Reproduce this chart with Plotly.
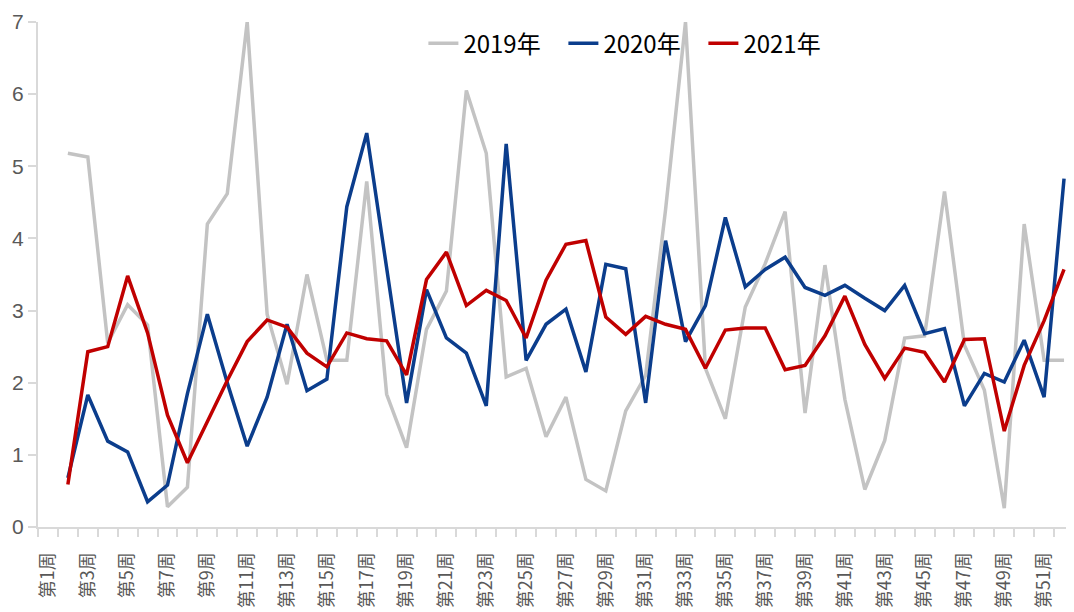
import plotly.graph_objects as go

weeks = list(range(1, 53))
week_labels = [f"第{i}周" for i in weeks]
tick_weeks = list(range(1, 53, 2))
tick_labels = [f"第{i}周" for i in tick_weeks]

y2019 = [None, 5.18, 5.13, 2.55, 3.08, 2.80, 0.28, 0.55, 4.20, 4.62, 7.00, 2.95, 1.98, 3.50,
         2.31, 2.31, 4.79, 1.84, 1.10, 2.74, 3.27, 6.05, 5.18, 2.08, 2.20, 1.25, 1.80, 0.66,
         0.50, 1.61, 2.10, 4.40, 7.00, 2.20, 1.50, 3.05, 3.65, 4.37, 1.58, 3.63, 1.77, 0.52,
         1.20, 2.62, 2.65, 4.65, 2.52, 1.90, 0.26, 4.20, 2.31, 2.31]
y2020 = [None, 0.68, 1.83, 1.19, 1.04, 0.35, 0.58, 1.85, 2.95, 2.00, 1.12, 1.80, 2.81, 1.89,
         2.05, 4.44, 5.46, 3.59, 1.72, 3.29, 2.62, 2.41, 1.68, 5.31, 2.31, 2.81, 3.02, 2.15,
         3.64, 3.58, 1.72, 3.97, 2.57, 3.07, 4.29, 3.33, 3.57, 3.74, 3.32, 3.21, 3.35, 3.17,
         3.00, 3.35, 2.68, 2.75, 1.68, 2.13, 2.01, 2.59, 1.80, 4.83]
y2021 = [None, 0.59, 2.43, 2.50, 3.48, 2.69, 1.55, 0.89, 1.47, 2.03, 2.57, 2.87, 2.77, 2.41,
         2.22, 2.69, 2.61, 2.58, 2.11, 3.43, 3.81, 3.07, 3.28, 3.14, 2.62, 3.42, 3.92, 3.97,
         2.91, 2.67, 2.92, 2.81, 2.74, 2.20, 2.73, 2.76, 2.76, 2.18, 2.24, 2.65, 3.20, 2.53,
         2.06, 2.48, 2.42, 2.01, 2.60, 2.61, 1.33, 2.24, 2.86, 3.57]

series = [
    ("2019年", y2019, "#c3c3c3"),
    ("2020年", y2020, "#0b3d8c"),
    ("2021年", y2021, "#c00000"),
]

fig = go.Figure()
for name, ys, color in series:
    fig.add_trace(go.Scatter(
        x=weeks, y=ys, name=name, mode="lines",
        line=dict(color=color, width=3.5),
        customdata=week_labels,
        hovertemplate="%{customdata}: %{y}<extra>" + name + "</extra>",
    ))

fig.update_layout(
    width=1066, height=604,
    margin=dict(l=30, r=0, t=14, b=85, pad=0, autoexpand=False),
    paper_bgcolor="white", plot_bgcolor="white",
    font=dict(family="Noto Sans CJK SC, Noto Sans, sans-serif", color="#595959"),
    showlegend=True,
    legend=dict(
        orientation="h", x=0.372, y=0.957, xanchor="left", yanchor="middle",
        font=dict(size=24, color="#000000"), bgcolor="rgba(0,0,0,0)",
        entrywidth=95, entrywidthmode="pixels",
    ),
    xaxis=dict(
        range=[0.5, 52.5], automargin=False,
        tickmode="array", tickvals=tick_weeks, ticktext=tick_labels,
        tickangle=-90, tickfont=dict(size=18, color="#595959"),
        ticks="outside", ticklen=16, tickcolor="rgba(0,0,0,0)",
        showline=True, linecolor="#d9d9d9", linewidth=2,
        showgrid=False, zeroline=False, ticklabeloverflow="allow",
        minor=dict(tickmode="linear", tick0=0.5, dtick=1, ticks="outside",
                   ticklen=8, tickcolor="#d9d9d9", tickwidth=1.5, showgrid=False),
    ),
    yaxis=dict(
        range=[0, 7], tickmode="linear", tick0=0, dtick=1, automargin=False,
        tickfont=dict(family="Liberation Sans, Arial, sans-serif", size=21, color="#595959"),
        ticks="outside", ticklen=8, tickcolor="#d9d9d9", tickwidth=1.5,
        showline=True, linecolor="#d9d9d9", linewidth=2,
        showgrid=False, zeroline=False, ticklabeloverflow="allow",
    ),
)

fig.write_html("out.html")
